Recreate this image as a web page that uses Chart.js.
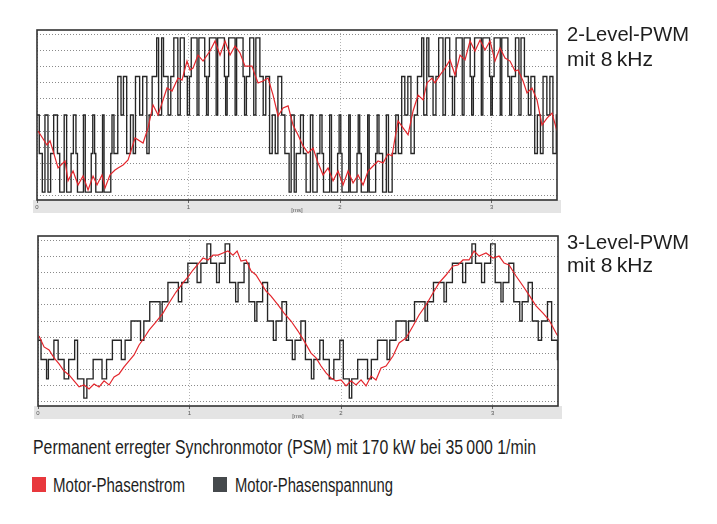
<!DOCTYPE html>
<html lang="de">
<head>
<meta charset="utf-8">
<title>2-Level- und 3-Level-PWM</title>
<script src="https://cdn.jsdelivr.net/npm/chart.js@4.4.1/dist/chart.umd.min.js"></script>
<style>
    body { margin: 0; background: #fff; }
    #page {
        position: relative; width: 717px; height: 524px; overflow: hidden; background: #fff;
        font-family: "Liberation Sans", Arial, sans-serif; color: #1e1e1e;
    }
    canvas { position: absolute; left: 0; }
    .txt { position: absolute; white-space: nowrap; line-height: 1; transform-origin: 0 0; }
    .narrow { font-family: "Liberation Sans Narrow", "Liberation Sans", Arial, sans-serif; }
    .swatch { position: absolute; width: 14px; height: 15px; }
</style>
</head>
<body>
<div id="page">
    <canvas id="topChart" width="717" height="220" style="top:0"></canvas>
    <canvas id="bottomChart" width="717" height="200" style="top:226px"></canvas>

    <div class="txt" data-w="122" style="left:566.5px; top:24.5px; font-size:19.5px">2-Level-PWM</div>
    <div class="txt" data-w="86" style="left:566.5px; top:50.2px; font-size:19.5px">mit 8&#8201;kHz</div>
    <div class="txt" data-w="122" style="left:566.5px; top:232.8px; font-size:19.5px">3-Level-PWM</div>
    <div class="txt" data-w="86" style="left:566.5px; top:256.2px; font-size:19.5px">mit 8&#8201;kHz</div>

    <div class="txt narrow" data-w="503" style="left:32.5px; top:437.2px; font-size:20.5px">Permanent erregter Synchronmotor (PSM) mit 170 kW bei 35&#8201;000 1/min</div>

    <div class="swatch" style="left:31.7px; top:476.7px; background:#e8383d"></div>
    <div class="txt narrow" data-w="132" style="left:53px; top:474.8px; font-size:20px">Motor-Phasenstrom</div>
    <div class="swatch" style="left:212.7px; top:476.7px; background:#45494c"></div>
    <div class="txt narrow" data-w="158" style="left:235px; top:474.8px; font-size:20px">Motor-Phasenspannung</div>
</div>

<script>
// Axis ticks (time in ms, y in grid divisions)
const timeTicks = [0, 1, 2, 3];
const gridRows = [-5, -4, -3, -2, -1, 0, 1, 2, 3, 4, 5];

// One voltage step (Vdc/6) measured in grid divisions, half carrier period at 8 kHz
const levelStep = 1.19;
const halfPeriod = 0.0625;

// 2-Level-PWM: phase current
const topCurrentTime = [
    0.007, 0.066, 0.086, 0.106, 0.139, 0.185, 0.205, 0.238, 0.271, 0.304,
    0.337, 0.370, 0.396, 0.429, 0.449, 0.482, 0.515, 0.535, 0.568, 0.601,
    0.647, 0.700, 0.733, 0.766, 0.799, 0.858, 0.891, 0.931, 0.957, 0.990,
    1.010, 1.030, 1.063, 1.096,
    1.142, 1.175, 1.208, 1.241, 1.274, 1.307, 1.340, 1.373, 1.419, 1.439,
    1.459, 1.492, 1.525, 1.558, 1.591, 1.624, 1.657, 1.690, 1.723, 1.756,
    1.789, 1.822, 1.855, 1.888, 1.921, 1.954, 1.987, 2.020, 2.053, 2.086,
    2.119, 2.152, 2.185, 2.218, 2.251, 2.284,
    2.317, 2.343, 2.363, 2.383, 2.416, 2.449, 2.482, 2.515, 2.548, 2.574,
    2.607, 2.627, 2.660, 2.693, 2.726, 2.759, 2.792, 2.825, 2.858, 2.891,
    2.924, 2.957, 2.990, 3.023, 3.056, 3.089, 3.122, 3.155, 3.175, 3.208,
    3.234, 3.267, 3.300, 3.333, 3.366, 3.399, 3.432
];
const topCurrentValue = [
    -0.99, -1.85, -1.60, -2.22, -3.27, -2.84, -4.07, -3.46, -4.32, -3.77,
    -4.63, -3.77, -4.32, -3.70, -4.51, -3.70, -3.40, -3.27, -3.09, -2.78,
    -1.42, -1.73, -0.80, 0.62, 0.00, 1.67, 1.48, 2.28, 2.16, 3.33,
    2.78, 2.90, 3.70, 3.33,
    3.95, 4.57, 3.70, 4.57, 3.70, 4.26, 3.83, 3.02, 3.02, 2.47,
    1.98, 2.10, 2.28, 1.23, -0.06, 0.43, 0.56, -0.62, -1.23, -1.91,
    -2.35, -2.04, -2.96, -3.70, -3.27, -4.07, -3.46, -4.32, -3.46, -4.20,
    -3.70, -4.32, -3.46, -3.15, -2.84, -2.96,
    -2.41, -2.53, -1.42, -0.37, -0.80, -1.23, 0.25, 1.23, 0.93, 1.98,
    2.28, 1.98, 2.47, 2.90, 3.40, 2.47, 3.70, 3.40, 4.57, 3.95,
    4.63, 4.01, 4.57, 3.33, 4.14, 3.52, 3.33, 2.72, 2.78, 2.10,
    1.36, 1.67, 0.93, -0.62, -0.19, 0.12, -0.99
];

// 2-Level-PWM: one row per carrier period
// [start ms, edge level, level 1, level 2, centre level, edge width, width 1, centre width]
const topPwmPeriods = [
    [0.000, 0, -2, -4, 0, 0.030, 0.020, 0.020],
    [0.125, 0, -2, -4, 0, 0.020, 0.015, 0.016],
    [0.250, 0, -2, -4, 0, 0.014, 0.010, 0.012],
    [0.375, 0, -2, -4, 0, 0.010, 0.008, 0.010],
    [0.500, 0, -2, 2, 0, 0.016, 0.025, 0.016],
    [0.625, 0, -2, 2, 0, 0.020, 0.015, 0.020],
    [0.750, 0, 2, 4, 0, 0.020, 0.030, 0.020],
    [0.875, 0, 2, 4, 0, 0.016, 0.020, 0.016],
    [1.000, 0, 2, 4, 0, 0.012, 0.012, 0.012],
    [1.125, 0, 2, 4, 0, 0.010, 0.008, 0.010],
    [1.250, 0, 2, 4, 0, 0.010, 0.010, 0.010],
    [1.375, 0, 2, 4, 0, 0.014, 0.022, 0.014],
    [1.500, 0, 2, -2, 0, 0.020, 0.025, 0.020],
    [1.625, 0, -2, -4, 0, 0.022, 0.028, 0.020],
    [1.750, 0, -2, -4, 0, 0.016, 0.018, 0.016],
    [1.875, 0, -2, -4, 0, 0.012, 0.010, 0.012],
    [2.000, 0, -2, -4, 0, 0.010, 0.008, 0.010],
    [2.125, 0, -2, -4, 0, 0.010, 0.010, 0.010],
    [2.250, 0, -2, -4, 0, 0.014, 0.024, 0.014],
    [2.375, 0, -2, 2, 0, 0.020, 0.022, 0.020],
    [2.500, 0, 2, 4, 0, 0.022, 0.028, 0.020],
    [2.625, 0, 2, 4, 0, 0.016, 0.018, 0.016],
    [2.750, 0, 2, 4, 0, 0.012, 0.010, 0.012],
    [2.875, 0, 2, 4, 0, 0.010, 0.008, 0.010],
    [3.000, 0, 2, 4, 0, 0.010, 0.012, 0.010],
    [3.125, 0, 2, 4, 0, 0.014, 0.026, 0.014],
    [3.250, 0, 2, -2, 0, 0.020, 0.025, 0.020],
    [3.375, 0, 2, -2, 0, 0.020, 0.020, 0.020]
];

// 3-Level-PWM: phase current
const bottomCurrentTime = [
    0.007, 0.040, 0.073, 0.106, 0.139, 0.172, 0.205, 0.238, 0.271, 0.304,
    0.337, 0.370, 0.403, 0.436, 0.469, 0.502, 0.535, 0.568, 0.601, 0.634,
    0.667, 0.700, 0.733, 0.779, 0.825, 0.865, 0.911, 0.957, 0.990, 1.023,
    1.056, 1.089, 1.122, 1.155, 1.188, 1.221, 1.254, 1.287, 1.314, 1.340,
    1.373, 1.406, 1.439, 1.472, 1.505, 1.538, 1.584, 1.624, 1.670, 1.716,
    1.756, 1.802, 1.835, 1.868, 1.901, 1.934, 1.967, 2.000, 2.033, 2.066,
    2.099, 2.132, 2.165, 2.198, 2.231, 2.264, 2.297, 2.343, 2.383, 2.429,
    2.475, 2.515, 2.561, 2.607, 2.647, 2.693, 2.739, 2.772, 2.805, 2.845,
    2.878, 2.911, 2.957, 3.003, 3.043, 3.076, 3.109, 3.155, 3.201, 3.241,
    3.287, 3.333, 3.373, 3.419, 3.432
];
const bottomCurrentValue = [
    -0.93, -1.60, -1.79, -2.28, -2.65, -3.09, -3.33, -3.70, -4.07, -3.95,
    -4.20, -3.89, -4.07, -3.70, -3.95, -3.46, -3.27, -2.84, -2.47, -2.10,
    -1.48, -1.05, -0.56, -0.06, 0.49, 1.11, 1.79, 2.35, 2.72, 3.15,
    3.52, 3.89, 3.77, 4.07, 4.07, 4.20, 4.32, 4.07, 4.32, 3.70,
    3.77, 3.09, 2.84, 2.35, 1.85, 1.54, 0.99, 0.49, 0.00, -0.62,
    -1.23, -1.98, -2.28, -2.78, -3.21, -3.52, -3.70, -3.64, -4.01, -3.70,
    -3.95, -3.64, -4.01, -3.40, -3.64, -2.90, -2.78, -2.16, -1.36, -1.05,
    -0.31, 0.37, 0.99, 1.73, 2.35, 2.84, 3.40, 3.46, 3.77, 3.77,
    4.32, 4.01, 4.20, 3.89, 4.01, 3.58, 3.46, 2.78, 2.16, 1.60,
    0.93, 0.49, 0.06, -0.74, -0.93
];

// 3-Level-PWM: one row per carrier period (same layout as above)
const bottomPwmPeriods = [
    [0.000, -1, -2, -2, -3, 0.040, 0, 0.012],
    [0.125, -1, -2, -2, -3, 0.016, 0, 0.030],
    [0.250, -2, -3, -3, -4, 0.022, 0, 0.020],
    [0.375, -1, -2, -2, -3, 0.018, 0, 0.030],
    [0.500, 0, -1, -1, -2, 0.022, 0, 0.025],
    [0.625, 1, 0, 0, -1, 0.025, 0, 0.022],
    [0.750, 2, 1, 1, 0, 0.035, 0, 0.014],
    [0.875, 3, 2, 2, 1, 0.022, 0, 0.022],
    [1.000, 4, 3, 3, 2, 0.020, 0, 0.025],
    [1.125, 4, 3, 3, 2, 0.030, 0, 0.018],
    [1.250, 3, 2, 2, 1, 0.030, 0, 0.016],
    [1.375, 2, 1, 1, 0, 0.035, 0, 0.014],
    [1.500, 1, 0, 0, -1, 0.030, 0, 0.018],
    [1.625, 0, -1, -1, -2, 0.030, 0, 0.018],
    [1.750, -1, -2, -2, -3, 0.030, 0, 0.016],
    [1.875, -1, -2, -2, -3, 0.016, 0, 0.030],
    [2.000, -2, -3, -3, -4, 0.030, 0, 0.016],
    [2.125, -1, -2, -2, -3, 0.018, 0, 0.025],
    [2.250, 0, -1, -1, -2, 0.025, 0, 0.018],
    [2.375, 1, 0, 0, -1, 0.030, 0, 0.016],
    [2.500, 2, 1, 1, 0, 0.030, 0, 0.016],
    [2.625, 3, 2, 2, 1, 0.030, 0, 0.016],
    [2.750, 4, 3, 3, 2, 0.022, 0, 0.020],
    [2.875, 4, 3, 3, 2, 0.025, 0, 0.020],
    [3.000, 3, 2, 2, 1, 0.035, 0, 0.014],
    [3.125, 2, 1, 1, 0, 0.030, 0, 0.016],
    [3.250, 1, 0, 0, -1, 0.025, 0, 0.022],
    [3.375, 0, -1, -1, -2, 0.030, 0, 0.018]
];

// Unpack the period rows into step vertices for a stepped line
function pwmPoints(rows) {
    const pts = [{ x: 0, y: rows[0][1] * levelStep }];
    rows.forEach(([s, edge, l1, l2, centre, wEdge, w1, wCentre]) => {
        const steps = [
            [s + wEdge / 2, l1],
            [s + wEdge / 2 + w1, l2],
            [s + halfPeriod - wCentre / 2, centre],
            [s + halfPeriod + wCentre / 2, l2],
            [s + 2 * halfPeriod - wEdge / 2 - w1, l1],
            [s + 2 * halfPeriod - wEdge / 2, edge]
        ];
        steps.forEach(([x, level]) => pts.push({ x: x, y: level * levelStep }));
    });
    return pts;
}

function tracePoints(times, values) {
    return times.map((t, i) => ({ x: t, y: values[i] }));
}

// Grey strip under the plot and the dark frame round it
const framePlugin = {
    id: 'frame',
    beforeDraw(chart) {
        const { ctx, chartArea: a } = chart;
        ctx.save();
        ctx.fillStyle = '#e4e4e4';
        ctx.fillRect(a.left - 4, a.bottom, a.right - a.left + 8, 13);
        ctx.restore();
    },
    afterDatasetsDraw(chart) {
        const { ctx, chartArea: a } = chart;
        ctx.save();
        ctx.strokeStyle = '#333';
        ctx.lineWidth = 1.6;
        ctx.strokeRect(a.left, a.top, a.right - a.left, a.bottom - a.top);
        ctx.restore();
    }
};

function makeChart(id, current, voltage, padding) {
    return new Chart(document.getElementById(id), {
        type: 'line',
        data: {
            datasets: [
                {
                    label: 'Motor-Phasenstrom',
                    data: current,
                    borderColor: '#e3262c',
                    borderWidth: 1.2,
                    pointRadius: 0,
                    tension: 0
                },
                {
                    label: 'Motor-Phasenspannung',
                    data: voltage,
                    borderColor: '#262626',
                    borderWidth: 1.35,
                    pointRadius: 0,
                    stepped: true
                }
            ]
        },
        options: {
            responsive: false,
            animation: false,
            devicePixelRatio: 1,
            layout: { padding: padding },
            plugins: {
                legend: { display: false },
                tooltip: { enabled: false }
            },
            scales: {
                x: {
                    type: 'linear',
                    min: 0,
                    max: 3.432,
                    afterBuildTicks: (scale) => { scale.ticks = timeTicks.map(v => ({ value: v })); },
                    afterFit: (scale) => { scale.height = 14; },
                    grid: { color: '#b4b4b4', lineWidth: 1, tickLength: 3, tickColor: '#666' },
                    border: { display: false, dash: [1, 2] },
                    ticks: { font: { size: 6 }, color: '#555', padding: 1, maxRotation: 0 },
                    title: { display: true, text: '[ms]', font: { size: 6 }, color: '#555', padding: 0 }
                },
                y: {
                    min: -5.25,
                    max: 5.25,
                    afterBuildTicks: (scale) => { scale.ticks = gridRows.map(v => ({ value: v })); },
                    grid: { color: '#8a8a8a', lineWidth: 1, drawTicks: false },
                    border: { display: false, dash: [1, 2] },
                    ticks: { display: false }
                }
            }
        },
        plugins: [framePlugin]
    });
}

makeChart('topChart',
    tracePoints(topCurrentTime, topCurrentValue),
    pwmPoints(topPwmPeriods),
    { left: 37, right: 160, top: 30, bottom: 6 });

makeChart('bottomChart',
    tracePoints(bottomCurrentTime, bottomCurrentValue),
    pwmPoints(bottomPwmPeriods),
    { left: 38, right: 159, top: 10, bottom: 6 });

// Fit the labels to the widths measured in the picture
function fitLabels() {
    document.querySelectorAll('.txt[data-w]').forEach(el => {
        el.style.transform = 'none';
        const w = el.getBoundingClientRect().width;
        if (w > 0) el.style.transform = 'scaleX(' + (el.dataset.w / w) + ')';
    });
}
fitLabels();
if (document.fonts && document.fonts.ready) document.fonts.ready.then(fitLabels);
</script>
</body>
</html>
